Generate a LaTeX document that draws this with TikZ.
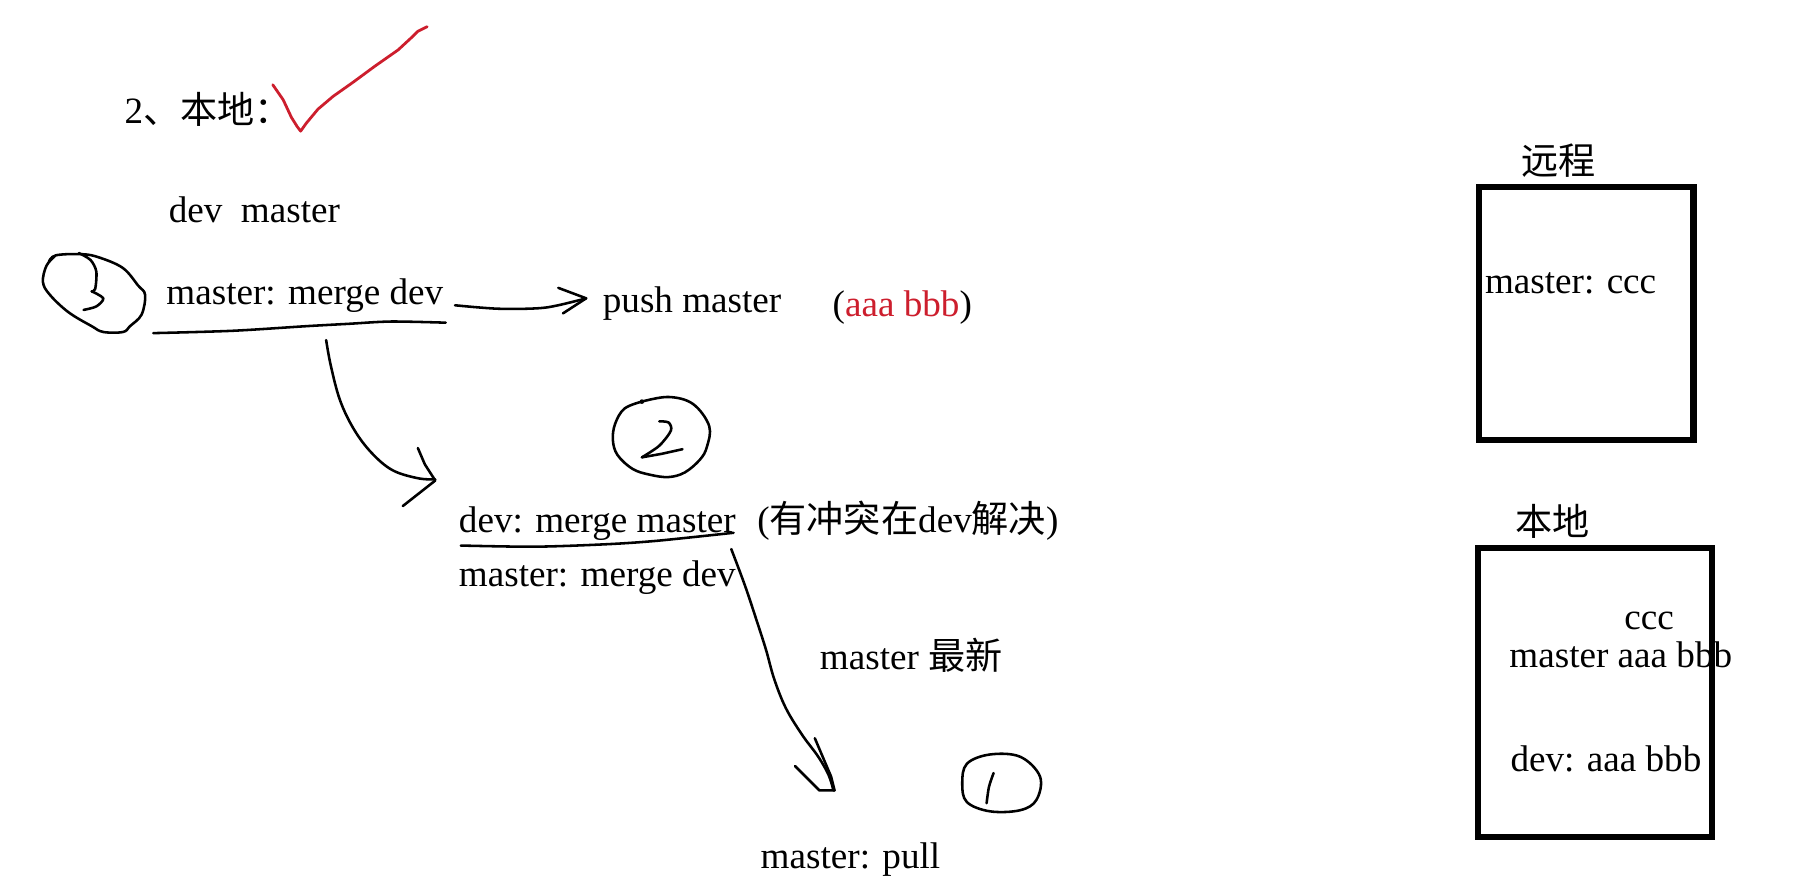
\documentclass[tikz,border=0pt]{standalone}
\usepackage{fontspec}
\setmainfont{Liberation Serif}
\newfontfamily\cjkfont{Noto Sans CJK SC}
\newcommand{\zh}[1]{{\cjkfont #1}}
\definecolor{inkred}{RGB}{205,30,45}
\begin{document}
\begin{tikzpicture}[x=0.5pt,y=-0.5pt,
  txt/.style={font=\fontsize{16}{19}\selectfont, anchor=base west, inner sep=0pt},
  ink/.style={line width=1.1pt, line cap=round, line join=round},
  redink/.style={line width=1.2pt, line cap=round, line join=round, draw=inkred},
  boxline/.style={line width=2.6pt}]
\useasboundingbox[fill=white] (0,0) rectangle (1568,771);

% texts
\node[txt] (title) at (107,106) {2\zh{、本地：}};
\node[txt] (devmaster) at (145,192) {dev\ \ master};
\node[txt] (mm1) at (143,262) {master: merge dev};
\node[txt] (push) at (519,269) {push master};
\node[txt] (aaa) at (717,273) {(\textcolor{inkred}{aaa bbb})};
\node[txt] (dmm) at (395,459) {dev: merge master};
\node[txt] (conflict) at (652,459) {(\zh{有冲突在}dev\zh{解决})};
\node[txt] (mm2) at (395,505) {master: merge dev};
\node[txt] (newest) at (706,577) {master \zh{最新}};
\node[txt] (pull) at (655,748) {master: pull};

% right side
\node[txt] (remotelbl) at (1310,150) {\zh{远程}};
\draw[boxline] (1274,161) rectangle (1459,379);
\node[txt] (mccc) at (1279,253) {master: ccc};
\node[txt] (locallbl) at (1305,461) {\zh{本地}};
\draw[boxline] (1273,472) rectangle (1475,721);
\node[txt] (ccc) at (1399,542) {ccc};
\node[txt] (maab) at (1300,575) {master aaa bbb};
\node[txt] (daab) at (1301,665) {dev: aaa bbb};

% red check mark
\draw[redink] (235,73) -- (244,86) -- (251,101) -- (256,109) -- (259,113) -- (264,106) -- (274,94) -- (287,83) -- (304,71) -- (323,57) -- (343,43) -- (356,31) -- (360,27) -- (368,23);

% circle 3
\draw[ink] plot[smooth, tension=0.6] coordinates {(42,226) (48,220) (71,219) (86,222) (106,231) (119,246) (125,254) (122,271) (112,281) (106,286) (89,286) (79,281) (59,269) (43,254) (37,243) (40,229) (47,221)};
\draw[ink] plot[smooth, tension=0.5] coordinates {(68,218) (78,224) (83,234) (82,249) (79,251)};
\draw[ink] plot[smooth, tension=0.5] coordinates {(79,251) (89,257) (83,264) (72,267)};

% underline 1 and arrow to push
\draw[ink] plot[smooth, tension=0.5] coordinates {(132,287) (200,285) (264,281) (300,279) (337,277) (384,278)};
\draw[ink] plot[smooth, tension=0.5] coordinates {(392,263) (430,266) (470,265) (505,257)};
\draw[ink] (481,248) -- (505,257) -- (485,270);

% curved arrow down to dev: merge master
\draw[ink] plot[smooth, tension=0.6] coordinates {(281,293) (285,315) (293,345) (305,370) (320,390) (338,405) (360,412) (375,413)};
\draw[ink] (360,386) -- (366,400) -- (375,414) -- (347,436);

% circle 2
\draw[ink] plot[smooth, tension=0.6] coordinates {(553,346) (576,342) (597,348) (611,367) (609,385) (603,396) (590,407) (576,411) (560,409) (545,404) (532,392) (528,379) (530,365) (538,352) (553,346)};
\fill (553,346) circle (2);
\draw[ink] plot[smooth, tension=0.5] coordinates {(568,363) (576,364) (578,371) (568,384) (553,394)};
\draw[ink] (553,394) -- (570,391) -- (588,387);

% underline 2
\draw[ink] plot[smooth, tension=0.5] coordinates {(397,470) (460,471) (520,469) (565,466) (632,459)};

% arrow down to pull
\draw[ink] plot[smooth, tension=0.6] coordinates {(630,473) (642,505) (652,535) (660,560) (667,585) (677,610) (691,633) (705,652) (714,668) (718,681)};
\draw[ink] (685,660) -- (706,681) -- (719,681);
\draw[ink] (702,636) -- (716,669) -- (719,681);

% circle 1
\draw[ink] plot[smooth cycle, tension=0.6] coordinates {(833,658) (853,650) (879,652) (896,669) (893,689) (879,698) (853,699) (833,691) (829,675)};
\draw[ink] plot[smooth, tension=0.5] coordinates {(856,666) (852,678) (850,692)};
\end{tikzpicture}
\end{document}
